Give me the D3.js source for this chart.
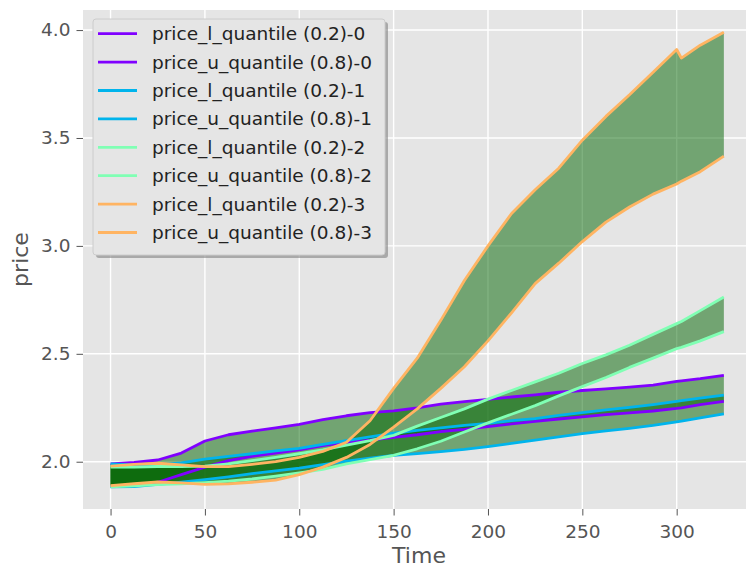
<!DOCTYPE html>
<html>
<head>
<meta charset="utf-8">
<script src="https://cdn.jsdelivr.net/npm/d3@7"></script>
<style>
  body { margin: 0; background: #fff; }
  svg { font-family: "DejaVu Sans", sans-serif; }
</style>
</head>
<body>
<div id="chart"></div>
<script>
// Time steps (x values)
const times = [0, 12.5, 25, 37.5, 50, 62.5, 75, 87.5, 100, 112.5, 125, 137.5, 150, 162.5,
  175, 187.5, 200, 212.5, 225, 237.5, 250, 262.5, 275, 287.5, 300, 302.5, 312.5, 325];

// Quantile series
const lower0 = [1.885, 1.892, 1.905, 1.94, 1.975, 2.005, 2.025, 2.04, 2.055, 2.075, 2.09, 2.10, 2.113, 2.125,
  2.14, 2.15, 2.163, 2.175, 2.187, 2.198, 2.208, 2.218, 2.226, 2.235, 2.247, 2.25, 2.265, 2.28];
const upper0 = [1.99, 1.997, 2.008, 2.04, 2.096, 2.125, 2.142, 2.157, 2.173, 2.195, 2.213, 2.228, 2.236, 2.25,
  2.267, 2.278, 2.289, 2.30, 2.31, 2.322, 2.33, 2.338, 2.346, 2.355, 2.372, 2.375, 2.385, 2.40];
const lower1 = [1.884, 1.885, 1.895, 1.905, 1.917, 1.93, 1.945, 1.958, 1.97, 1.987, 2.003, 2.017, 2.029, 2.038,
  2.047, 2.057, 2.07, 2.085, 2.10, 2.115, 2.13, 2.143, 2.155, 2.168, 2.185, 2.188, 2.203, 2.222];
const upper1 = [1.99, 1.985, 1.985, 1.995, 2.012, 2.025, 2.037, 2.05, 2.062, 2.08, 2.098, 2.115, 2.132, 2.145,
  2.157, 2.168, 2.178, 2.19, 2.20, 2.215, 2.228, 2.24, 2.252, 2.265, 2.28, 2.283, 2.295, 2.309];
const lower2 = [1.884, 1.888, 1.894, 1.898, 1.903, 1.91, 1.92, 1.933, 1.948, 1.965, 1.99, 2.01, 2.03, 2.06,
  2.095, 2.138, 2.18, 2.22, 2.26, 2.305, 2.348, 2.39, 2.437, 2.48, 2.524, 2.53, 2.56, 2.603];
const upper2 = [1.975, 1.975, 1.978, 1.978, 1.98, 1.99, 2.005, 2.02, 2.037, 2.055, 2.077, 2.098, 2.122, 2.165,
  2.205, 2.245, 2.29, 2.33, 2.37, 2.41, 2.455, 2.495, 2.54, 2.59, 2.64, 2.65, 2.70, 2.763];
const lower3 = [1.889, 1.898, 1.906, 1.902, 1.895, 1.897, 1.905, 1.915, 1.94, 1.975, 2.02, 2.08, 2.16, 2.245,
  2.34, 2.44, 2.56, 2.69, 2.825, 2.92, 3.02, 3.11, 3.18, 3.24, 3.287, 3.30, 3.344, 3.416];
const upper3 = [1.98, 1.988, 1.993, 1.985, 1.977, 1.977, 1.988, 2.0, 2.02, 2.048, 2.09, 2.19, 2.34, 2.48,
  2.655, 2.84, 3.0, 3.15, 3.26, 3.36, 3.49, 3.60, 3.70, 3.805, 3.91, 3.87, 3.93, 3.99];

const groups = [
  { lower: lower0, upper: upper0, color: "#8000ff" },
  { lower: lower1, upper: upper1, color: "#00b4ec" },
  { lower: lower2, upper: upper2, color: "#80ffb4" },
  { lower: lower3, upper: upper3, color: "#ffb462" }
];

const legendLabels = [
  "price_l_quantile (0.2)-0", "price_u_quantile (0.8)-0",
  "price_l_quantile (0.2)-1", "price_u_quantile (0.8)-1",
  "price_l_quantile (0.2)-2", "price_u_quantile (0.8)-2",
  "price_l_quantile (0.2)-3", "price_u_quantile (0.8)-3"
];
const legendColors = ["#8000ff", "#8000ff", "#00b4ec", "#00b4ec", "#80ffb4", "#80ffb4", "#ffb462", "#ffb462"];

const xTicks = [0, 50, 100, 150, 200, 250, 300];
const yTicks = [2.0, 2.5, 3.0, 3.5, 4.0];

// Layout
const margin = { top: 10, left: 83 },
      width = 672,
      height = 499;

const svg = d3.select("#chart").append("svg")
    .attr("width", 746)
    .attr("height", 569);

const g = svg.append("g")
    .attr("transform", `translate(${margin.left},${margin.top})`);

// Scales
const x = d3.scaleLinear().domain([-14.6, 341.5]).range([0, width]);
const y = d3.scaleLinear().domain([1.781, 4.093]).range([height, 0]);

// Background
g.append("rect")
    .attr("width", width)
    .attr("height", height)
    .attr("fill", "#e5e5e5");

// Grid
g.selectAll(".vgrid").data(xTicks).enter().append("line")
    .attr("x1", d => x(d)).attr("x2", d => x(d))
    .attr("y1", 0).attr("y2", height)
    .attr("stroke", "#fff").attr("stroke-width", 1.4);
g.selectAll(".hgrid").data(yTicks).enter().append("line")
    .attr("x1", 0).attr("x2", width)
    .attr("y1", d => y(d)).attr("y2", d => y(d))
    .attr("stroke", "#fff").attr("stroke-width", 1.4);

// Bands
const area = d3.area()
    .x((d, i) => x(times[i]))
    .y0(d => y(d[0]))
    .y1(d => y(d[1]));

groups.forEach(s => {
    g.append("path")
        .datum(s.lower.map((v, i) => [v, s.upper[i]]))
        .attr("d", area)
        .attr("fill", "#006400")
        .attr("fill-opacity", 0.5);
});

// Lines
const line = d3.line()
    .x((d, i) => x(times[i]))
    .y(d => y(d));

groups.forEach(s => {
    [s.lower, s.upper].forEach(vals => {
        g.append("path")
            .datum(vals)
            .attr("d", line)
            .attr("fill", "none")
            .attr("stroke", s.color)
            .attr("stroke-width", 2.8)
            .attr("stroke-linejoin", "round");
    });
});

// Axes
const xAxis = g.append("g")
    .attr("transform", `translate(0,${height})`)
    .call(d3.axisBottom(x).tickValues(xTicks).tickSize(6.5).tickPadding(9));
const yAxis = g.append("g")
    .call(d3.axisLeft(y).tickValues(yTicks).tickFormat(d3.format(".1f")).tickSize(6.5).tickPadding(6));

[xAxis, yAxis].forEach(a => {
    a.select(".domain").remove();
    a.selectAll(".tick line").attr("stroke", "#555").attr("stroke-width", 1);
    a.selectAll(".tick text")
        .attr("fill", "#555")
        .style("font-size", "18.5px")
        .style("font-family", "DejaVu Sans");
});

// Axis labels
svg.append("text")
    .attr("x", margin.left + width / 2)
    .attr("y", 563)
    .attr("text-anchor", "middle")
    .attr("fill", "#555")
    .style("font-size", "22px")
    .text("Time");

svg.append("text")
    .attr("transform", "rotate(-90)")
    .attr("x", -(margin.top + height / 2))
    .attr("y", 28)
    .attr("text-anchor", "middle")
    .attr("fill", "#555")
    .style("font-size", "22px")
    .text("price");

// Legend
const legend = svg.append("g").attr("transform", "translate(93,19)");

legend.append("rect")
    .attr("x", 3).attr("y", 3)
    .attr("width", 292).attr("height", 236)
    .attr("rx", 3)
    .attr("fill", "#808080")
    .attr("fill-opacity", 0.6);

legend.append("rect")
    .attr("width", 292).attr("height", 236)
    .attr("rx", 3)
    .attr("fill", "#e5e5e5")
    .attr("stroke", "#cccccc")
    .attr("stroke-width", 1);

const item = legend.selectAll(".item")
    .data(legendLabels)
    .enter()
    .append("g")
    .attr("transform", (d, i) => `translate(0,${14.7 + i * 28.4})`);

item.append("line")
    .attr("x1", 5).attr("x2", 44)
    .attr("stroke", (d, i) => legendColors[i])
    .attr("stroke-width", 2.8);

item.append("text")
    .attr("x", 59)
    .attr("dy", "0.35em")
    .attr("fill", "#222")
    .style("font-size", "18.5px")
    .text(d => d);
</script>
</body>
</html>
